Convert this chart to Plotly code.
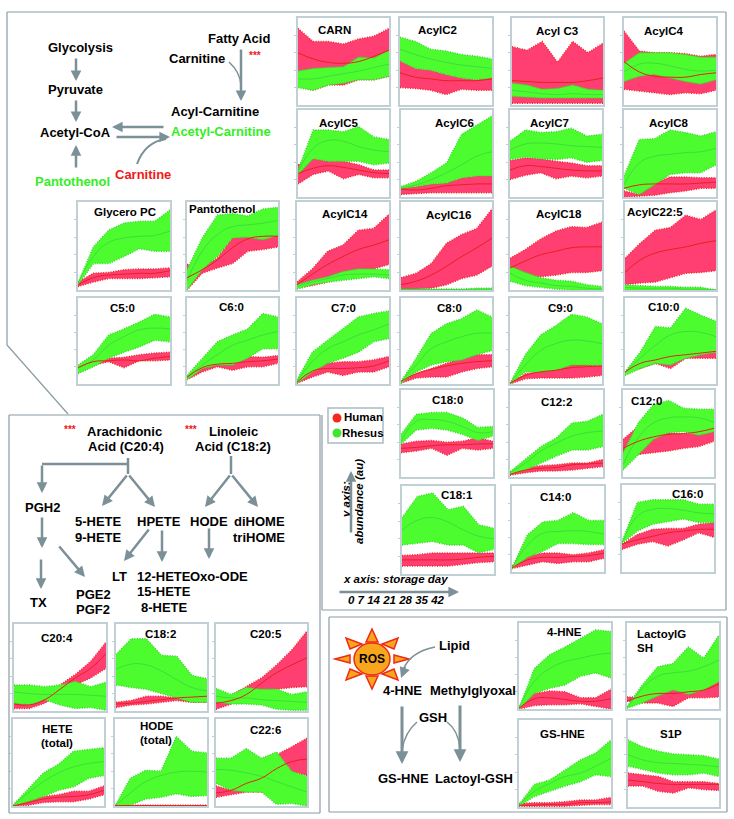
import plotly.graph_objects as go

DAYS = [0, 7, 14, 21, 28, 35, 42]

# abundance (au, scaled to each panel) : h = human, r = rhesus, l/m/h = lower, mean, upper
CARN_hl=[.21,.17,.23,.23,.29,.29,.33]; CARN_hm=[.60,.53,.49,.48,.50,.56,.63]; CARN_hh=[.88,.73,.73,.70,.76,.79,.88]
CARN_rl=[.20,.17,.23,.25,.29,.29,.33]; CARN_rm=[.30,.30,.33,.36,.39,.43,.47]; CARN_rh=[.39,.42,.43,.44,.55,.54,.63]
C2_hl=[.20,.19,.17,.12,.18,.17,.17]; C2_hm=[.37,.32,.30,.28,.28,.28,.30]; C2_hh=[.51,.42,.40,.35,.31,.29,.32]
C2_rl=[.51,.42,.40,.35,.31,.29,.31]; C2_rm=[.64,.58,.53,.49,.46,.44,.42]; C2_rh=[.78,.73,.64,.62,.58,.56,.53]
C3_hl=[.02,.02,.02,.02,.02,.02,.02]; C3_hm=[.28,.27,.26,.26,.26,.28,.31]; C3_hh=[.67,.63,.73,.49,.73,.60,.71]
C3_rl=[.10,.09,.08,.08,.08,.08,.08]; C3_rm=[.17,.15,.13,.12,.13,.12,.12]; C3_rh=[.25,.23,.18,.19,.23,.18,.17]
C4_hl=[.18,.16,.14,.12,.14,.13,.17]; C4_hm=[.50,.38,.33,.32,.32,.35,.37]; C4_hh=[.85,.62,.60,.60,.59,.56,.58]
C4_rl=[.27,.33,.35,.31,.27,.24,.29]; C4_rm=[.38,.47,.48,.45,.41,.39,.40]; C4_rh=[.48,.60,.60,.60,.58,.55,.55]
C5_hl=[.15,.26,.30,.21,.26,.22,.22]; C5_hm=[.27,.33,.36,.34,.31,.28,.27]; C5_hh=[.37,.44,.41,.41,.37,.31,.31]
C5_rl=[.26,.44,.41,.41,.41,.37,.39]; C5_rm=[.28,.56,.65,.64,.58,.54,.52]; C5_rh=[.31,.77,.77,.75,.81,.69,.66]
C6_hl=[.03,.04,.05,.05,.05,.05,.05]; C6_hm=[.09,.08,.10,.13,.14,.15,.15]; C6_hh=[.10,.12,.15,.16,.22,.24,.24]
C6_rl=[.10,.12,.15,.16,.22,.24,.24]; C6_rm=[.10,.14,.20,.28,.37,.47,.52]; C6_rh=[.12,.18,.28,.39,.72,.83,.93]
C7_hl=[.20,.25,.28,.21,.24,.22,.24]; C7_hm=[.31,.36,.35,.33,.31,.30,.30]; C7_hh=[.42,.45,.44,.41,.39,.36,.36]
C7_rl=[.43,.46,.44,.43,.45,.40,.42]; C7_rm=[.54,.61,.62,.61,.59,.58,.57]; C7_rh=[.64,.77,.74,.75,.79,.70,.72]
C8_hl=[.00,.01,.02,.05,.07,.10,.10]; C8_hm=[.10,.14,.15,.15,.15,.16,.17]; C8_hh=[.07,.03,.16,.23,.23,.22,.22]
C8_rl=[.10,.03,.14,.26,.28,.28,.37]; C8_rm=[.14,.39,.47,.49,.51,.52,.56]; C8_rh=[.24,.66,.67,.77,.74,.70,.75]
C14_hl=[.02,.05,.09,.13,.19,.24,.29]; C14_hm=[.06,.18,.29,.38,.46,.51,.57]; C14_hh=[.09,.24,.44,.51,.68,.70,.86]
C14_rl=[.01,.06,.09,.11,.13,.15,.13]; C14_rm=[.04,.09,.13,.17,.18,.18,.17]; C14_rh=[.06,.11,.15,.21,.24,.24,.23]
C16_hl=[.01,.01,.02,.06,.13,.17,.27]; C16_hm=[.06,.10,.17,.27,.38,.48,.59]; C16_hh=[.14,.19,.30,.53,.63,.70,.92]
C16_rl=[.00,.00,.00,.00,.00,.00,.00]; C16_rm=[.005,.005,.005,.005,.005,.01,.01]; C16_rh=[.01,.01,.01,.01,.01,.02,.02]
C18_hl=[.25,.15,.15,.17,.20,.20,.22]; C18_hm=[.25,.33,.40,.44,.48,.49,.49]; C18_hh=[.36,.46,.58,.67,.72,.71,.77]
C18_rl=[.10,.05,.03,.01,.00,.00,.00]; C18_rm=[.19,.11,.08,.05,.04,.02,.01]; C18_rh=[.27,.20,.14,.11,.10,.06,.04]
C225_hl=[.06,.08,.09,.14,.19,.20,.22]; C225_hm=[.20,.34,.42,.46,.49,.53,.56]; C225_hh=[.36,.53,.68,.71,.85,.80,.91]
C225_rl=[.00,.00,.00,.00,.00,.00,.00]; C225_rm=[.03,.02,.02,.02,.01,.01,.00]; C225_rh=[.06,.05,.04,.04,.03,.03,.00]
F7_hl=[.01,.08,.14,.10,.14,.14,.20]; F7_hm=[.02,.15,.18,.18,.19,.21,.27]; F7_hh=[.03,.16,.24,.26,.26,.28,.32]
F7_rl=[.01,.14,.24,.30,.37,.49,.53]; F7_rm=[.03,.26,.41,.49,.57,.63,.70]; F7_rh=[.05,.37,.51,.64,.78,.82,.85]
F8_hl=[.01,.07,.08,.08,.14,.18,.20]; F8_hm=[.03,.12,.17,.21,.24,.26,.27]; F8_hh=[.03,.12,.18,.24,.30,.34,.34]
F8_rl=[.01,.14,.22,.26,.28,.34,.39]; F8_rm=[.03,.22,.41,.49,.55,.59,.59]; F8_rh=[.03,.30,.59,.70,.76,.86,.78]
F9_hl=[.00,.06,.07,.07,.07,.08,.10]; F9_hm=[.01,.10,.14,.16,.19,.20,.21]; F9_hh=[.01,.12,.14,.16,.22,.22,.21]
F9_rl=[.00,.14,.14,.16,.22,.22,.22]; F9_rm=[.01,.22,.39,.47,.51,.50,.47]; F9_rh=[.01,.34,.57,.68,.81,.78,.70]
F10_hl=[.14,.18,.24,.18,.30,.30,.30]; F10_hm=[.14,.24,.28,.32,.34,.36,.38]; F10_hh=[.14,.22,.28,.30,.38,.36,.37]
F10_rl=[.10,.18,.24,.22,.30,.34,.37]; F10_rm=[.14,.30,.45,.57,.61,.60,.55]; F10_rh=[.14,.37,.67,.65,.88,.80,.73]
GPC_hl=[.04,.09,.13,.13,.13,.14,.15]; GPC_hm=[.06,.14,.17,.18,.19,.19,.22]; GPC_hh=[.09,.19,.20,.23,.24,.24,.25]
GPC_rl=[.06,.30,.30,.38,.47,.44,.44]; GPC_rm=[.08,.38,.54,.59,.61,.62,.67]; GPC_rh=[.08,.49,.68,.76,.78,.78,.91]
PAN_hl=[.00,.19,.25,.30,.44,.46,.49]; PAN_hm=[.14,.23,.34,.48,.58,.61,.61]; PAN_hh=[.29,.27,.36,.59,.61,.61,.66]
PAN_rl=[.00,.23,.38,.59,.60,.57,.62]; PAN_rm=[.10,.44,.63,.72,.74,.76,.79]; PAN_rh=[.23,.59,.85,.87,.84,.92,.94]
F5_hl=[.19,.22,.26,.19,.27,.27,.28]; F5_hm=[.19,.26,.27,.28,.27,.30,.32]; F5_hh=[.20,.22,.30,.31,.34,.36,.37]
F5_rl=[.12,.20,.30,.37,.43,.51,.49]; F5_rm=[.18,.28,.45,.55,.63,.65,.64]; F5_rh=[.22,.34,.57,.64,.72,.81,.78]
F6_hl=[.05,.14,.20,.16,.20,.20,.24]; F6_hm=[.08,.19,.23,.24,.26,.27,.29]; F6_hh=[.09,.19,.23,.24,.32,.31,.33]
F6_rl=[.05,.18,.22,.22,.30,.41,.41]; F6_rm=[.07,.22,.34,.45,.51,.57,.61]; F6_rh=[.10,.30,.49,.57,.64,.82,.78]
F180_hl=[.28,.30,.33,.25,.33,.31,.33]; F180_hm=[.33,.34,.36,.37,.37,.38,.38]; F180_hh=[.38,.41,.42,.40,.41,.45,.41]
F180_rl=[.38,.54,.56,.54,.49,.42,.47]; F180_rm=[.41,.64,.66,.64,.58,.51,.52]; F180_rh=[.49,.72,.74,.74,.68,.57,.58]
F122_hl=[.02,.05,.07,.07,.08,.10,.12]; F122_hm=[.03,.08,.10,.11,.14,.15,.16]; F122_hh=[.06,.11,.13,.14,.16,.16,.20]
F122_rl=[.03,.08,.16,.24,.31,.31,.35]; F122_rm=[.05,.16,.30,.39,.47,.51,.53]; F122_rh=[.06,.21,.35,.45,.62,.64,.72]
F120_hl=[.30,.26,.28,.30,.33,.35,.41]; F120_hm=[.33,.41,.46,.49,.50,.52,.56]; F120_hh=[.43,.58,.49,.51,.49,.51,.56]
F120_rl=[.08,.26,.43,.51,.52,.48,.52]; F120_rm=[.14,.45,.62,.68,.69,.68,.63]; F120_rh=[.28,.62,.83,.88,.79,.78,.78]
F181_hl=[.09,.09,.09,.09,.11,.13,.14]; F181_hm=[.16,.16,.16,.16,.17,.19,.20]; F181_hh=[.21,.22,.24,.24,.24,.24,.24]
F181_rl=[.33,.35,.37,.33,.33,.24,.28]; F181_rm=[.50,.61,.64,.59,.50,.43,.40]; F181_rh=[.64,.88,.92,.73,.77,.56,.52]
F140_hl=[.04,.08,.12,.10,.12,.12,.16]; F140_hm=[.05,.14,.17,.17,.18,.19,.22]; F140_hh=[.07,.18,.22,.22,.20,.22,.26]
F140_rl=[.04,.17,.24,.33,.33,.32,.32]; F140_rm=[.05,.31,.45,.47,.48,.47,.44]; F140_rh=[.05,.43,.58,.60,.69,.60,.60]
F160_hl=[.26,.32,.35,.30,.37,.45,.40]; F160_hm=[.32,.37,.41,.45,.47,.49,.49]; F160_hh=[.32,.43,.49,.50,.50,.55,.57]
F160_rl=[.33,.47,.55,.58,.61,.57,.57]; F160_rm=[.33,.64,.72,.73,.71,.68,.67]; F160_rh=[.35,.80,.83,.83,.83,.78,.78]
F204_hl=[.03,.03,.09,.19,.30,.38,.49]; F204_hm=[.08,.07,.13,.25,.38,.49,.66]; F204_hh=[.12,.09,.21,.30,.42,.57,.79]
F204_rl=[.09,.07,.13,.07,.03,.04,.01]; F204_rm=[.22,.20,.19,.19,.19,.18,.17]; F204_rh=[.30,.30,.28,.30,.34,.28,.33]
F182_hl=[.04,.07,.08,.10,.12,.10,.10]; F182_hm=[.08,.09,.11,.13,.15,.16,.17]; F182_hh=[.10,.12,.17,.17,.15,.17,.18]
F182_rl=[.30,.27,.25,.20,.15,.10,.10]; F182_rm=[.48,.54,.53,.46,.36,.27,.23]; F182_rh=[.65,.83,.83,.64,.63,.41,.37]
F205_hl=[.02,.08,.21,.23,.25,.27,.28]; F205_hm=[.09,.12,.19,.32,.44,.53,.61]; F205_hh=[.10,.18,.28,.38,.53,.70,.92]
F205_rl=[.10,.08,.08,.07,.02,.01,.01]; F205_rm=[.17,.15,.15,.13,.12,.11,.10]; F205_rh=[.26,.19,.27,.25,.25,.19,.22]
HETE_hl=[.00,.01,.04,.05,.05,.08,.13]; HETE_hm=[.00,.04,.08,.10,.11,.13,.18]; HETE_hh=[.01,.07,.11,.13,.17,.17,.23]
HETE_rl=[.00,.05,.11,.18,.22,.32,.35]; HETE_rm=[.01,.15,.28,.38,.45,.49,.51]; HETE_rh=[.01,.20,.38,.48,.63,.65,.67]
HODE_hl=[.00,.00,.00,.00,.00,.00,.00]; HODE_hm=[.005,.005,.005,.005,.005,.005,.005]; HODE_hh=[.01,.01,.01,.01,.01,.01,.01]
HODE_rl=[.00,.01,.08,.10,.14,.11,.12]; HODE_rm=[.00,.15,.28,.35,.39,.40,.39]; HODE_rh=[.00,.32,.41,.40,.80,.63,.61]
F226_hl=[.10,.13,.16,.16,.28,.40,.35]; F226_hm=[.15,.18,.26,.32,.43,.51,.54]; F226_hh=[.23,.18,.28,.40,.59,.68,.78]
F226_rl=[.26,.18,.16,.16,.02,.03,.00]; F226_rm=[.42,.41,.38,.34,.28,.22,.16]; F226_rh=[.55,.55,.66,.55,.62,.40,.34]
HNE_hl=[.00,.04,.05,.05,.06,.03,.00]; HNE_hm=[.01,.12,.13,.11,.09,.09,.12]; HNE_hh=[.03,.18,.21,.20,.13,.13,.23]
HNE_rl=[.00,.18,.24,.28,.38,.42,.36]; HNE_rm=[.01,.32,.47,.55,.59,.63,.65]; HNE_rh=[.01,.47,.63,.72,.82,.92,.90]
LAC_hl=[.09,.07,.07,.03,.13,.13,.14]; LAC_hm=[.09,.15,.18,.18,.20,.22,.29]; LAC_hh=[.14,.14,.24,.28,.17,.22,.32]
LAC_rl=[.01,.07,.15,.22,.17,.22,.32]; LAC_rm=[.01,.24,.38,.42,.44,.49,.57]; LAC_rh=[.03,.28,.49,.53,.72,.59,.86]
GSH_hl=[.01,.01,.01,.01,.02,.03,.03]; GSH_hm=[.02,.02,.03,.03,.05,.05,.06]; GSH_hh=[.04,.05,.05,.06,.08,.08,.11]
GSH_rl=[.01,.12,.18,.24,.29,.37,.35]; GSH_rm=[.02,.18,.27,.35,.39,.47,.56]; GSH_rh=[.03,.26,.31,.43,.54,.62,.77]
S1P_hl=[.24,.24,.18,.16,.22,.20,.19]; S1P_hm=[.31,.29,.27,.26,.26,.26,.26]; S1P_hh=[.39,.37,.35,.29,.29,.29,.27]
S1P_rl=[.47,.43,.39,.37,.37,.39,.35]; S1P_rm=[.60,.54,.51,.50,.49,.48,.46]; S1P_rh=[.77,.69,.64,.61,.60,.59,.55]

# key, left, right, top, bottom (window pixels)
PANELS = [
    ("CARN",298,389,18,105),("C2",400,492,18,105),("C3",512,603,18,105),("C4",624,716,18,105),
    ("C5",298,389,110,197),("C6",401,492,110,197),("C7",510,602,110,197),("C8",624,716,110,197),
    ("C14",297,389,202,290),("C16",401,492,202,290),("C18",510,602,202,290),("C225",625,716,202,290),
    ("F7",297,389,298,384),("F8",401,492,298,384),("F9",510,602,298,384),("F10",625,716,298,384),
    ("GPC",78,170,202,290),("PAN",187,278,202,290),("F5",78,170,298,384),("F6",187,278,298,384),
    ("F180",401,493,390,477),("F122",510,603,390,477),("F120",623,714,390,477),
    ("F181",402,494,486,574),("F140",512,604,486,572),("F160",622,714,485,572),
    ("F204",14,106,624,711),("F182",116,207,624,711),("F205",216,307,624,711),
    ("HETE",13,104,719,806),("HODE",115,207,719,806),("F226",216,307,719,806),
    ("HNE",519,611,623,709),("LAC",627,719,623,709),("GSH",519,611,720,807),("S1P",628,719,720,807),
]

W, H = 734, 819
FRAME = "#8a9ca5"; BORDER = "#c0d0d4"; ARROW = "#7c9098"
H_FILL, H_EDGE = "#ff3f72", "#f02828"
R_FILL, R_EDGE = "#4dfc2e", "#38d92c"
GREEN_T, RED_T = "#33ee22", "#f01818"
FONT = "Liberation Sans"

fig = go.Figure()
layout = {}
data = globals()
for i, (key, x0, x1, y0, y1) in enumerate(PANELS, start=1):
    xa, ya = f"x{i}", f"y{i}"
    common = dict(xaxis=xa, yaxis=ya, x=DAYS, mode="lines", showlegend=False, hoverinfo="skip")
    dotted_h = dict(color=H_EDGE, width=1.5, dash="1px,1.5px")
    dotted_r = dict(color=R_EDGE, width=1.5, dash="1px,1.5px")
    fig.add_trace(go.Scatter(y=data[key + "_hl"], line=dotted_h, **common))
    fig.add_trace(go.Scatter(y=data[key + "_hh"], line=dotted_h, fill="tonexty", fillcolor=H_FILL, **common))
    fig.add_trace(go.Scatter(y=data[key + "_rl"], line=dotted_r, **common))
    fig.add_trace(go.Scatter(y=data[key + "_rh"], line=dotted_r, fill="tonexty", fillcolor=R_FILL, **common))
    fig.add_trace(go.Scatter(y=data[key + "_rm"], line=dict(color="#3adf3a", width=1, shape="spline", smoothing=1.3), **common))
    fig.add_trace(go.Scatter(y=data[key + "_hm"], line=dict(color="#e8201c", width=1, shape="spline", smoothing=1.3), **common))
    layout[f"xaxis{i}"] = dict(domain=[x0 / W, x1 / W], range=[0, 42], anchor=ya, showgrid=False, zeroline=False,
                               showticklabels=False, ticks="", showline=True, mirror=True,
                               linecolor=BORDER, linewidth=1.5)
    layout[f"yaxis{i}"] = dict(domain=[1 - y1 / H, 1 - y0 / H], range=[0, 1], anchor=xa, showgrid=False,
                               zeroline=False, showticklabels=False, ticks="outside", ticklen=2, tickwidth=1,
                               tickcolor="#c4cfd3", tickvals=[.2, .4, .6, .8], showline=True, mirror=True,
                               linecolor=BORDER, linewidth=1.5)

# overlay in window pixels for the diagrams
OV = len(PANELS) + 1
OX, OY = f"x{OV}", f"y{OV}"
layout[f"xaxis{OV}"] = dict(domain=[0, 1], range=[0, W], visible=False, anchor=OY)
layout[f"yaxis{OV}"] = dict(domain=[0, 1], range=[H, 0], visible=False, anchor=OX)

LEGEND_X = [337, 337]; LEGEND_Y = [418, 433]
fig.add_trace(go.Scatter(x=LEGEND_X, y=LEGEND_Y, xaxis=OX, yaxis=OY, mode="markers", showlegend=False,
                         hoverinfo="skip", marker=dict(size=9, color=["#f5281e", "#3fe52f"])))

anns, shapes = [], []

def T(text, x, y, size=13, color="black", bold=True, italic=False, angle=0, anchor="center"):
    s = f"<b>{text}</b>" if bold else text
    if italic:
        s = f"<i>{s}</i>"
    anns.append(dict(text=s, x=x, y=y, xref=OX, yref=OY, showarrow=False, xanchor=anchor, yanchor="middle",
                     textangle=angle, font=dict(family=FONT, size=size, color=color)))

def A(x0, y0, x1, y1, w=2.5):
    anns.append(dict(text="", x=x1, y=y1, ax=x0, ay=y0, xref=OX, yref=OY, axref=OX, ayref=OY, showarrow=True,
                     arrowhead=2, arrowsize=0.85 if w > 2 else 1.4, arrowwidth=w, arrowcolor=ARROW))

def L(x0, y0, x1, y1, w=2.5, color=ARROW):
    shapes.append(dict(type="line", x0=x0, y0=y0, x1=x1, y1=y1, xref=OX, yref=OY, line=dict(color=color, width=w)))

def C(path, w=1.5):
    shapes.append(dict(type="path", path=path, xref=OX, yref=OY, line=dict(color=ARROW, width=w)))

# frames
for seg in [(7,12,726,12),(726,12,726,610),(7,12,7,345),(7,345,68,414),(322,415,322,610),(322,610,726,610),
            (9,415,320,415),(9,415,9,813),(9,813,320,813),(320,415,320,813),
            (329,617,727,617),(329,812,727,812),(329,617,329,812),(727,617,727,812)]:
    L(*seg, w=1.2, color=FRAME)
shapes.append(dict(type="rect", x0=328, y0=408, x1=383, y1=443, xref=OX, yref=OY,
                   line=dict(color="#a9bcc3", width=1.5)))

# panel titles
for t, x, y in [("CARN",334,30),("AcylC2",437,30),("Acyl C3",557,31),("AcylC4",664,31),("AcylC5",339,123),
                ("AcylC6",454,123),("AcylC7",549,123),("AcylC8",669,123),("AcylC14",345,214),("AcylC16",448,215),
                ("AcylC18",559,214),("AcylC22:5",655,212),("C7:0",343,308),("C8:0",449,308),("C9:0",560,308),
                ("C10:0",663,307),("Glycero PC",125,212),("Pantothenol",222,209),("C5:0",122,308),("C6:0",231,307),
                ("C18:0",447,400),("C12:2",556,402),("C12:0",646,401),("C18:1",457,495),("C14:0",555,497),
                ("C16:0",687,494),("C20:4",57,638),("C18:2",160,634),("C20:5",266,634),("HETE",57,729),
                ("(total)",57,743),("HODE",157,726),("(total)",156,740),("C22:6",265,730),("4-HNE",564,632),
                ("GS-HNE",562,734),("S1P",671,734)]:
    T(t, x, y, size=11.5)
T("LactoylG", 635, 634, size=11.5, anchor="left")
T("SH", 635, 648, size=11.5, anchor="left")

# top pathway
for t, x, y in [("Glycolysis",80,47),("Pyruvate",75,89),("Acetyl-CoA",75,132),("Fatty Acid",239,38),
                ("Carnitine",197,58),("Acyl-Carnitine",215,111)]:
    T(t, x, y)
T("Pantothenol", 72, 181, color=GREEN_T)
T("Acetyl-Carnitine", 221, 131, color=GREEN_T)
T("Carnitine", 143, 174, color=RED_T)
T("***", 255, 55, size=10, color=RED_T)
A(76,57,76,81); A(76,99,76,122); A(76,169,76,145); A(165,127,112,127); A(115,137,170,137); A(241,48,241,101)
C("M 229 62 Q 240 72 241 85")
C("M 137 164 Q 145 142 166 139", w=2)

# legend and axes notes
T("Human", 363, 417, size=11.5); T("Rhesus", 363, 433, size=11.5)
T("y axis:", 346, 500, size=11.5, italic=True, angle=-90)
T("abundance (au)", 359, 502, size=11.5, italic=True, angle=-90)
A(351,534,351,471)
T("x axis: storage day", 395, 579, size=11.5, italic=True)
A(338,592,459,592)
T("0 7 14 21 28 35 42", 396, 600, size=11.5, italic=True)

# arachidonic / linoleic pathway
T("***",70,429,size=10,color=RED_T); T("***",191,429,size=10,color=RED_T)
for t, x, y in [("Arachidonic",124,431),("Acid (C20:4)",126,446),("Linoleic",233,431),("Acid (C18:2)",233,446),
                ("PGH2",42,507),("5-HETE",98,521),("9-HETE",98,537),("HPETE",159,521),("HODE",209,521),
                ("diHOME",259,521),("triHOME",259,537),("LT",119,576),("12-HETE",164,576),("15-HETE",164,591),
                ("8-HETE",164,607),("Oxo-ODE",219,576),("PGE2",93,594),("PGF2",93,609),("TX",38,602)]:
    T(t, x, y)
L(128,458,128,474); L(42,464,128,464); L(231,456,231,474)
for a in [(42,464,42,493),(128,474,102,506),(128,474,155,507),(231,474,205,507),(231,474,258,507),(42,516,42,548),
          (41,558,41,589),(58,545,85,577),(150,528,124,561),(162,529,162,562),(209,527,209,559)]:
    A(*a)

# ROS pathway
for t, x, y in [("Lipid",454,645),("4-HNE",402,690),("Methylglyoxal",473,690),("GSH",433,717),("GS-HNE",403,778),
                ("Lactoyl-GSH",474,778)]:
    T(t, x, y)
SUN_X, SUN_Y = 372, 659
for tx, ty, bx1, by1, bx2, by2 in [(0,-30,-6,-17,6,-17),(0,30,-6,17,6,17),(-37,0,-22,-4,-22,4),(37,0,22,-4,22,4),
                                   (-26,-21,-22,-10,-10,-15),(26,-21,22,-10,10,-15),(-26,21,-22,10,-10,15),(26,21,22,10,10,15)]:
    shapes.append(dict(type="path", xref=OX, yref=OY, fillcolor="#f9a61e", line=dict(color="#ee2a14", width=1.5),
                       path=f"M {SUN_X+tx} {SUN_Y+ty} L {SUN_X+bx1} {SUN_Y+by1} L {SUN_X+bx2} {SUN_Y+by2} Z"))
shapes.append(dict(type="circle", xref=OX, yref=OY, x0=SUN_X-18, x1=SUN_X+18, y0=SUN_Y-16, y1=SUN_Y+16,
                   fillcolor="#f9a61e", line=dict(color="#ee2a14", width=1.5)))
T("ROS", SUN_X, SUN_Y, size=12)
C("M 435 647 Q 410 652 403 670", w=1.5)
A(406,665,401,678,w=1.5)
A(402,705,402,764,w=3); A(460,704,460,762,w=3)
C("M 417 722 Q 405 732 402 750"); C("M 447 722 Q 458 730 460 748")

fig.update_layout(width=W, height=H, margin=dict(l=0, r=0, t=0, b=0), paper_bgcolor="white", plot_bgcolor="rgba(0,0,0,0)",
                  annotations=anns, shapes=shapes, showlegend=False, **layout)
fig.write_html("out.html", config={"displayModeBar": False},
               post_script="document.body.style.margin='0';document.body.style.overflow='hidden';")
